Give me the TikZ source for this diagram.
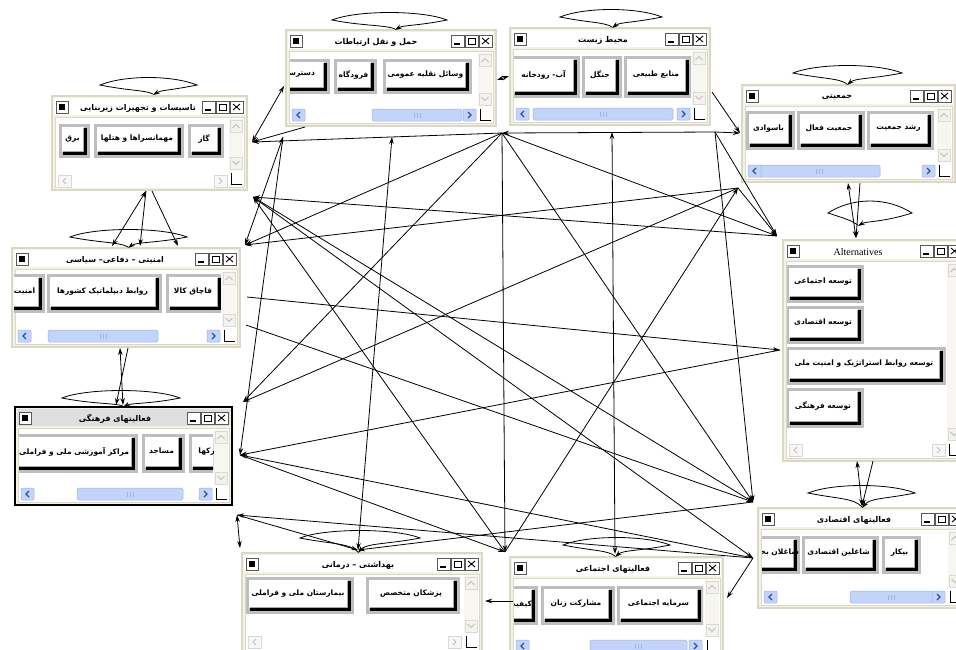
\documentclass[tikz,border=0pt]{standalone}
\usepackage{fontspec}
\setmainfont{Liberation Serif}
\newfontfamily\af[Script=Arabic]{DejaVu Sans}
\TeXXeTstate=1
\usetikzlibrary{arrows.meta}
\definecolor{winedge}{HTML}{DCD8C6}
\definecolor{wincream}{HTML}{F4F2E8}
\definecolor{btngray}{HTML}{BEBEBE}
\definecolor{scrollblue}{HTML}{C3D4FB}
\definecolor{scrolledge}{HTML}{9DB3E6}
\definecolor{chevblue}{HTML}{2A4DA6}
\definecolor{vtrackc}{HTML}{F7F6F1}
\definecolor{vboxc}{HTML}{F3F2EC}
\colorlet{titlebg}{white}
\tikzset{
 winframe/.style={draw=winedge,line width=1.2pt,fill=wincream,inner sep=0pt,outer sep=0pt},
 tbtn/.style={draw=black!65,fill=white,line width=0.6pt},
 vbox/.style={draw=black!15,fill=vboxc,line width=0.4pt},
 chev/.style={draw=black!25,line width=0.9pt},
 sbox/.style={draw=scrolledge,fill=scrollblue,line width=0.5pt,rounded corners=1pt},
 schev/.style={draw=chevblue,line width=1.1pt},
 dbox/.style={draw=black!15,fill=black!3,line width=0.5pt},
 dchev/.style={draw=black!25,line width=1pt},
 sthumb/.style={draw=scrolledge,fill=scrollblue,line width=0.5pt,rounded corners=1.5pt},
 titletext/.style={inner sep=0pt,font=\af\bfseries\fontsize{8}{10}\selectfont},
 btntext/.style={inner sep=0pt,font=\af\bfseries\fontsize{7.5}{9}\selectfont},
 conn/.style={line width=0.8pt,-{Stealth[length=7pt,width=4.5pt]}},
 conn2/.style={line width=0.8pt,{Stealth[length=7pt,width=4.5pt]}-{Stealth[length=7pt,width=4.5pt]}},
}
% window: name x y w h titlex title
\newcommand\mywin[7]{%
  \node[winframe,minimum width=#4pt,minimum height=#5pt,anchor=north west] (#1) at (#2,#3) {};
  \fill[white] (#2+3,#3+21) rectangle (#2+#4-3,#3+#5-3);
  \draw[winedge,line width=0.6pt] (#2+3,#3+21) rectangle (#2+#4-3,#3+#5-3);
  \fill[titlebg] (#2+2,#3+2) rectangle (#2+#4-2,#3+19);
  \node[titletext] (#1-t) at (#6,#3+12) {#7};
  \draw[tbtn] (#2+4,#3+5) rectangle ++(12,12);
  \fill (#2+7,#3+8) rectangle ++(6,6);
  \draw[tbtn] (#2+#4-45,#3+5) rectangle ++(13,12);
  \draw[line width=1.4pt] (#2+#4-42,#3+14) -- ++(6,0);
  \draw[tbtn] (#2+#4-31,#3+5) rectangle ++(13,12);
  \draw[line width=0.9pt] (#2+#4-28,#3+8) rectangle ++(7,6);
  \draw[tbtn] (#2+#4-17,#3+5) rectangle ++(13,12);
  \draw[line width=0.9pt] (#2+#4-14,#3+8) -- ++(7,6) (#2+#4-7,#3+8) -- ++(-7,6);
  \fill[vtrackc] (#2+#4-18,#3+23) rectangle (#2+#4-4,#3+#5-20);
  \draw[vbox] (#2+#4-17,#3+24) rectangle ++(12,12);
  \draw[chev] (#2+#4-14.5,#3+32) -- ++(3.5,-3.5) -- ++(3.5,3.5);
  \draw[vbox] (#2+#4-17,#3+#5-33) rectangle ++(12,12);
  \draw[chev] (#2+#4-14.5,#3+#5-29) -- ++(3.5,3.5) -- ++(3.5,-3.5);
  \draw[line width=0.9pt] (#2+#4-16,#3+#5-17) -- ++(0,11) -- ++(11,0);
}
% button: name x1 y1 x2 y2 text
\newcommand\mybtn[6]{%
  \fill[btngray] (#2,#3) rectangle (#4,#5);
  \fill[black] (#2+4,#3+4) rectangle (#4-3,#5-3);
  \fill[white] (#2+3,#3+3) rectangle (#4-6,#5-6);
  \draw[black!35,line width=0.5pt] (#2+3.5,#5-6.5) -- (#4-6.5,#5-6.5) -- (#4-6.5,#3+3.5);
  \node[btntext] (#1) at ({(#2+#4)/2-2},{(#3+#5)/2-2}) {#6};
}
% horizontal scrollbar: x1 x2 y thumb1 thumb2
\newcommand\myhs[5]{%
  \fill[white] (#1,#3) rectangle (#2,#3+14);
  \draw[sthumb] (#4,#3+1) rectangle (#5,#3+13);
  \draw[scrolledge,line width=0.4pt] ({(#4+#5)/2-3},#3+4.5) -- ++(0,5) ({(#4+#5)/2},#3+4.5) -- ++(0,5) ({(#4+#5)/2+3},#3+4.5) -- ++(0,5);
  \draw[sbox] (#1+1,#3+1) rectangle ++(13,12);
  \draw[schev] (#1+9,#3+4) -- ++(-3,3) -- ++(3,3);
  \draw[sbox] (#2-14,#3+1) rectangle ++(13,12);
  \draw[schev] (#2-9,#3+4) -- ++(3,3) -- ++(-3,3);
}
\newcommand\myhsd[3]{%
  \fill[white] (#1,#3) rectangle (#2,#3+14);
  \draw[dbox] (#1+1,#3+1) rectangle ++(13,12);
  \draw[dchev] (#1+9,#3+4) -- ++(-3,3) -- ++(3,3);
  \draw[dbox] (#2-14,#3+1) rectangle ++(13,12);
  \draw[dchev] (#2-9,#3+4) -- ++(3,3) -- ++(-3,3);
}
% self loop: lx rx tipy bx by bulge
\newcommand\myloop[6]{%
  \draw[conn] (#4,#5-1) .. controls (#4-8,#3+#6*0.5) and (#1+30,#3+#6*0.6) .. (#1,#3) .. controls (#1+25,#3-#6) and (#2-25,#3-#6) .. (#2,#3) .. controls (#2-30,#3+#6*0.6) and (#4+8,#3+#6*0.5) .. (#4,#5);
}
\begin{document}
\begin{tikzpicture}[x=1pt,y=-1pt]
\useasboundingbox[fill=white] (0,0) rectangle (956,649);

% ---------- windows ----------
\mywin{infra}{52}{96}{195}{94}{138}{\beginR تاسیسات و تجهیزات زیربنایی\endR}
\begin{scope}\clip (56,117) rectangle (228,172);
\mybtn{b11}{188}{124}{224}{158}{\beginR گاز\endR}
\mybtn{b12}{94}{124}{184}{158}{\beginR مهمانسراها و هتلها\endR}
\mybtn{b13}{59}{124}{90}{158}{\beginR برق\endR}
\end{scope}
\myhsd{57}{228}{174}

\mywin{trans}{286}{30}{210}{96}{376}{\beginR حمل و نقل ارتباطات\endR}
\begin{scope}\clip (290,51) rectangle (477,108);
\mybtn{b21}{383}{59}{472}{94}{\beginR وسائل نقلیه عمومی\endR}
\mybtn{b22}{334}{59}{377}{94}{\beginR فرودگاه\endR}
\mybtn{b23}{270}{59}{330}{94}{\beginR دسترسی\endR}
\end{scope}
\myhs{291}{477}{108}{372}{462}

\mywin{env}{510}{28}{200}{97}{603}{\beginR محیط زیست\endR}
\begin{scope}\clip (514,49) rectangle (691,107);
\mybtn{b31}{624}{56}{692}{98}{\beginR منابع طبیعی\endR}
\mybtn{b32}{582}{56}{622}{98}{\beginR جنگل\endR}
\mybtn{b33}{511}{56}{580}{98}{\beginR آب- رودخانه\endR}
\end{scope}
\myhs{515}{691}{107}{533}{673}

\mywin{pop}{742}{85}{213}{97}{837}{\beginR جمعیتی\endR}
\begin{scope}\clip (746,106) rectangle (936,164);
\mybtn{b41}{867}{111}{934}{150}{\beginR رشد جمعیت\endR}
\mybtn{b42}{797}{111}{865}{150}{\beginR جمعیت فعال\endR}
\mybtn{b43}{746}{111}{795}{150}{\beginR باسوادی\endR}
\end{scope}
\myhs{747}{936}{164}{758}{880}

\mywin{alt}{783}{240}{182}{221}{858}{\rmfamily\mdseries\fontsize{10}{11}\selectfont Alternatives}
\begin{scope}\clip (787,261) rectangle (946,441);
\mybtn{b51}{786}{265}{864}{303}{\beginR توسعه اجتماعی\endR}
\mybtn{b52}{786}{306}{864}{344}{\beginR توسعه اقتصادی\endR}
\mybtn{b53}{786}{347}{946}{385}{\beginR توسعه روابط استراتژیک و امنیت ملی\endR}
\mybtn{b54}{786}{388}{864}{428}{\beginR توسعه فرهنگی\endR}
\end{scope}
\myhsd{788}{946}{443}

\mywin{sec}{12}{248}{228}{99}{115}{\beginR امنیتی – دفاعی– سیاسی\endR}
\begin{scope}\clip (14,269) rectangle (221,329);
\mybtn{b61}{166}{274}{224}{313}{\beginR قاچاق کالا\endR}
\mybtn{b62}{47}{274}{162}{313}{\beginR روابط دیپلماتیک کشورها\endR}
\mybtn{b63}{8}{274}{45}{313}{\beginR امنیت\endR}
\end{scope}
\myhs{17}{221}{329}{48}{158}

\colorlet{titlebg}{black!13}
\mywin{cul}{15}{407}{217}{98}{115}{\beginR فعالیتهای فرهنگی\endR}
\draw[line width=1.6pt] (15,407) rectangle (232,505);
\begin{scope}\clip (19,428) rectangle (213,487);
\mybtn{b71}{189}{434}{234}{473}{\beginR پارکها\endR}
\mybtn{b72}{142}{434}{185}{473}{\beginR مساجد\endR}
\mybtn{b73}{14}{434}{138}{473}{\beginR مراکز آموزشی ملی و فراملی\endR}
\end{scope}
\myhs{20}{213}{487}{77}{183}
\colorlet{titlebg}{white}

\mywin{eco}{758}{508}{208}{100}{854}{\beginR فعالیتهای اقتصادی\endR}
\begin{scope}\clip (762,529) rectangle (946,590);
\mybtn{b81}{882}{536}{921}{574}{\beginR بیکار\endR}
\mybtn{b82}{802}{536}{879}{574}{\beginR شاغلین اقتصادی\endR}
\mybtn{b83}{718}{536}{800}{574}{\beginR شاغلان بخش خصوصی\endR}
\end{scope}
\myhs{763}{946}{590}{850}{933}

\mywin{hea}{242}{553}{240}{100}{358}{\beginR بهداشتی – درمانی\endR}
\begin{scope}\clip (246,574) rectangle (462,635);
\mybtn{b91}{366}{577}{460}{614}{\beginR پزشکان متخصص\endR}
\mybtn{b92}{246}{577}{354}{614}{\beginR بیمارستان ملی و فراملی\endR}
\end{scope}
\myhsd{247}{462}{635}

\mywin{soc}{510}{557}{213}{100}{613}{\beginR فعالیتهای اجتماعی\endR}
\begin{scope}\clip (514,578) rectangle (703,639);
\mybtn{b101}{617}{586}{704}{625}{\beginR سرمایه اجتماعی\endR}
\mybtn{b102}{541}{586}{615}{625}{\beginR مشارکت زنان\endR}
\mybtn{b103}{480}{586}{538}{625}{\beginR کیفیت زندگی\endR}
\end{scope}
\myhs{515}{703}{639}{590}{687}

% ---------- self loops ----------
\myloop{100}{197}{85}{153}{95}{10}
\myloop{332}{447}{20}{395}{30}{10}
\myloop{560}{662}{17}{612}{28}{10}
\myloop{793}{902}{73}{847}{85}{10}
\myloop{828}{912}{213}{858}{226}{16}
\myloop{70}{187}{237}{128}{248}{10}
\myloop{62}{180}{398}{123}{407}{10}
\myloop{808}{915}{493}{862}{508}{10}
\myloop{300}{420}{538}{358}{553}{10}
\myloop{563}{670}{545}{615}{557}{10}

% ---------- hub points ----------
\coordinate (hA) at (252,142);
\coordinate (hA1) at (284,86);
\coordinate (hA2) at (253,197);
\coordinate (hTB) at (305,127);
\coordinate (hB) at (283,137);
\coordinate (hB2) at (392,137);
\coordinate (hC) at (502,133);
\coordinate (hC2) at (612,132);
\coordinate (hD) at (715,132);
\coordinate (hD2) at (740,133);
\coordinate (hER) at (712,92);
\coordinate (hD3) at (738,188);
\coordinate (hF) at (777,236);
\coordinate (hF2) at (780,350);
\coordinate (hG) at (245,245);
\coordinate (hG2) at (247,297);
\coordinate (hG3) at (246,325);
\coordinate (hH) at (243,402);
\coordinate (hH2) at (240,455);
\coordinate (hH3) at (237,515);
\coordinate (hI) at (240,548);
\coordinate (hI2) at (505,552);
\coordinate (hHL) at (358,550);
\coordinate (hSL) at (615,554);
\coordinate (hJ) at (753,502);
\coordinate (hJ2) at (753,558);
\coordinate (hK) at (485,601);
\coordinate (hK2) at (513,601);
\coordinate (hS2) at (727,598);
\coordinate (hTR) at (497,80);
\coordinate (hEL) at (509,76);
\coordinate (hIB1) at (146,191);
\coordinate (hIB2) at (152,191);
\coordinate (hST1) at (112,246);
\coordinate (hST2) at (140,246);
\coordinate (hST3) at (178,246);
\coordinate (hSB1) at (120,348);
\coordinate (hSB2) at (128,348);
\coordinate (hCT1) at (123,405);
\coordinate (hCT2) at (116,405);
\coordinate (hPB1) at (848,183);
\coordinate (hPB2) at (860,183);
\coordinate (hAT) at (856,238);
\coordinate (hAB1) at (857,461);
\coordinate (hAB2) at (873,461);
\coordinate (hEC) at (862,506);

% ---------- connectors ----------
\draw[conn] (hC) -- (hA);
\draw[conn] (hC) -- (hG);
\draw[conn] (hC) -- (hH);
\draw[conn] (hC) -- (hI2);
\draw[conn] (hC) -- (hF);
\draw[conn] (hD) -- (hC);
\draw[conn] (hC) -- (hJ);
\draw[conn2] (hSL) -- (hC2);
\draw[conn2] (hHL) -- (hB2);
\draw[conn] (hD) -- (hD2);
\draw[conn] (hER) -- (hD2);
\draw[conn] (hD) -- (hJ);
\draw[conn] (hD) -- (hF);
\draw[conn] (hF) -- (hA2);
\draw[conn] (hJ) -- (hA2);
\draw[conn] (hI2) -- (hA2);
\draw[conn] (hD3) -- (hG);
\draw[conn] (hD3) -- (hH);
\draw[conn] (hI2) -- (hD3);
\draw[conn] (hD3) -- (hF);
\draw[conn] (hG2) -- (hF2);
\draw[conn2] (hB) -- (hG);
\draw[conn] (hB) -- (hH2);
\draw[conn] (hTB) -- (hA);
\draw[conn2] (hA1) -- (hA);
\draw[conn2] (hTR) -- (hEL);
\draw[conn2] (hIB1) -- (hST1);
\draw[conn] (hIB1) -- (hST2);
\draw[conn] (hIB2) -- (hST3);
\draw[conn2] (hSB1) -- (hCT1);
\draw[conn] (hSB2) -- (hCT2);
\draw[conn2] (hPB1) -- (hAT);
\draw[conn] (hPB2) -- (hAT);
\draw[conn2] (hAB1) -- (hEC);
\draw[conn] (hAB2) -- (hEC);
\draw[conn] (hK2) -- (hK);
\draw[conn] (hJ) -- (hHL);
\draw[conn] (hH3) -- (hHL);
\draw[conn] (hF2) -- (hH2);
\draw[conn] (hJ2) -- (hH2);
\draw[conn] (hJ2) -- (hH3);
\draw[conn] (hG3) -- (hJ);
\draw[conn2] (hH3) -- (hI);
\draw[conn] (hJ2) -- (hS2);
\draw[conn] (hH2) -- (hI2);
\draw[conn] (hA2) -- (hJ2);
\end{tikzpicture}
\end{document}
